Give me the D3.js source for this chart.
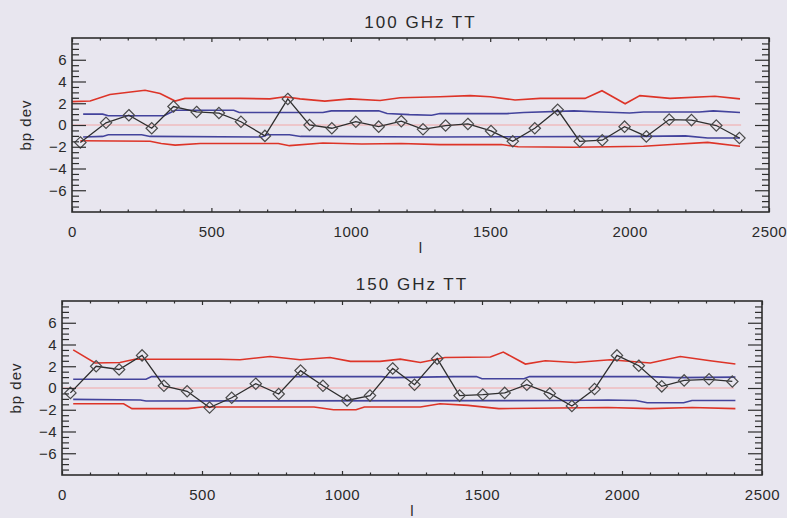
<!DOCTYPE html>
<html>
<head>
<meta charset="utf-8">
<script src="https://cdn.jsdelivr.net/npm/d3@7"></script>
<style>
  body { margin: 0; background: #e8e6ef; }
  svg { display: block; }
  text { font-family: "Liberation Sans", Arial, sans-serif; fill: #2a2a2a; }
</style>
</head>
<body>
<svg id="chart" width="787" height="518"></svg>
<script>
// multipole bin centres shared by both panels
const L_BINS = [30, 122, 204, 286, 364, 447, 527, 606, 692, 774, 852, 932, 1018, 1100, 1181,
  1259, 1340, 1420, 1503, 1581, 1660, 1742, 1821, 1902, 1982, 2060, 2142, 2222, 2311, 2394];

// bandpower deviation, 100 GHz TT
const TT100_DEV = [-1.6, 0.2, 0.9, -0.3, 1.7, 1.2, 1.1, 0.3, -1.0, 2.4, 0.0, -0.3, 0.3, -0.15, 0.35,
  -0.4, -0.05, 0.1, -0.55, -1.5, -0.3, 1.4, -1.5, -1.4, -0.15, -1.05, 0.5, 0.45, -0.05, -1.2];

// bandpower deviation, 150 GHz TT
const TT150_DEV = [-0.45, 2.0, 1.7, 3.0, 0.2, -0.3, -1.8, -0.9, 0.4, -0.55, 1.6, 0.2, -1.15, -0.7, 1.8,
  0.3, 2.7, -0.7, -0.6, -0.45, 0.3, -0.5, -1.65, -0.1, 3.0, 2.05, 0.15, 0.7, 0.8, 0.6];

// envelope curves as [l, value]
const TT100_RED_HI = [[0, 2.15], [65, 2.2], [136, 2.8], [262, 3.2], [316, 2.9], [370, 2.2], [405, 2.45],
  [603, 2.45], [710, 2.4], [764, 2.6], [818, 2.4], [907, 2.2], [997, 2.4], [1105, 2.25], [1177, 2.5],
  [1320, 2.6], [1428, 2.7], [1500, 2.6], [1589, 2.3], [1679, 2.45], [1840, 2.45], [1901, 3.15],
  [1984, 1.95], [2037, 2.7], [2145, 2.45], [2306, 2.65], [2396, 2.4]];
const TT100_RED_LO = [[30, -1.45], [280, -1.5], [320, -1.7], [370, -1.85], [460, -1.7], [740, -1.7],
  [780, -1.9], [900, -1.65], [1040, -1.75], [1180, -1.7], [1320, -1.8], [1540, -1.8], [1600, -2.0],
  [1800, -2.05], [2050, -1.95], [2150, -1.8], [2280, -1.6], [2396, -1.95]];
const TT100_BLUE_HI = [[40, 1.0], [110, 1.0], [130, 0.85], [330, 0.85], [370, 1.35], [580, 1.35],
  [600, 1.15], [900, 1.15], [930, 1.3], [1100, 1.3], [1130, 1.05], [1210, 0.95], [1290, 0.9],
  [1320, 1.05], [1560, 1.05], [1620, 1.15], [1800, 1.3], [1900, 1.2], [2000, 1.1], [2050, 1.2],
  [2250, 1.2], [2300, 1.3], [2396, 1.15]];
const TT100_BLUE_LO = [[40, -1.1], [110, -1.05], [130, -0.9], [250, -0.9], [280, -1.05], [680, -1.1],
  [700, -0.9], [780, -0.9], [820, -1.05], [1300, -1.1], [2050, -1.05], [2200, -1.0], [2280, -1.2],
  [2396, -1.2]];

const TT150_RED_HI = [[40, 3.5], [118, 2.3], [207, 2.35], [260, 2.65], [565, 2.65], [636, 2.6],
  [743, 2.9], [850, 2.6], [957, 2.8], [1030, 2.45], [1136, 2.45], [1208, 2.65], [1280, 2.35],
  [1368, 2.8], [1530, 2.85], [1576, 3.3], [1655, 2.2], [1726, 2.5], [1833, 2.35], [1958, 2.6],
  [2101, 2.3], [2208, 2.9], [2315, 2.5], [2405, 2.2]];
const TT150_RED_LO = [[40, -1.45], [220, -1.45], [250, -1.9], [450, -1.9], [500, -1.75], [900, -1.75],
  [970, -2.0], [1050, -2.0], [1080, -1.75], [1280, -1.75], [1350, -1.45], [1450, -1.6], [1560, -1.9],
  [1950, -1.8], [2100, -1.9], [2250, -1.8], [2405, -1.9]];
const TT150_BLUE_HI = [[40, 0.8], [300, 0.8], [320, 1.05], [1140, 1.05], [1180, 0.95], [1400, 1.05],
  [1480, 1.05], [1500, 0.85], [1650, 0.85], [1670, 1.05], [2100, 1.05], [2200, 0.95], [2405, 1.0]];
const TT150_BLUE_LO = [[40, -1.05], [280, -1.1], [300, -1.2], [1800, -1.15], [1950, -1.1], [2050, -1.15],
  [2090, -1.35], [2220, -1.35], [2250, -1.15], [2405, -1.15]];

const ZERO_SPAN = [0, 2400];
const X_DOMAIN = [0, 2500];
const Y_DOMAIN = [-8, 8];
const X_TICKS = [0, 500, 1000, 1500, 2000, 2500];
const Y_TICKS = [-6, -4, -2, 0, 2, 4, 6];

const RED = '#dd3428';
const BLUE = '#43439c';
const PINK = '#f2a6a6';
const INK = '#2e2e2e';

const svg = d3.select('#chart');

function drawPanel(cfg) {
  const { left, top, width, height } = cfg;
  const g = svg.append('g').attr('transform', `translate(${left},${top})`);

  const x = d3.scaleLinear().domain(X_DOMAIN).range([0, width]);
  const y = d3.scaleLinear().domain(Y_DOMAIN).range([height, 0]);

  const line = d3.line().x((d) => x(d[0])).y((d) => y(d[1]));

  // zero reference
  g.append('path')
    .attr('d', line(ZERO_SPAN.map((l) => [l, 0])))
    .attr('fill', 'none')
    .attr('stroke', PINK)
    .attr('stroke-width', 1);

  // envelopes
  [[cfg.blueHi, BLUE], [cfg.blueLo, BLUE], [cfg.redHi, RED], [cfg.redLo, RED]].forEach(([pts, col]) => {
    g.append('path')
      .attr('d', line(pts))
      .attr('fill', 'none')
      .attr('stroke', col)
      .attr('stroke-width', 1.6);
  });

  // data
  const pts = L_BINS.map((l, i) => [l, cfg.dev[i]]);
  g.append('path')
    .attr('d', line(pts))
    .attr('fill', 'none')
    .attr('stroke', INK)
    .attr('stroke-width', 1.3);

  const diamond = d3.symbol(d3.symbolDiamond2 || d3.symbolDiamond, 82);
  g.selectAll('path.pt')
    .data(pts)
    .join('path')
    .attr('class', 'pt')
    .attr('transform', (d) => `translate(${x(d[0])},${y(d[1])})`)
    .attr('d', diamond)
    .attr('fill', 'none')
    .attr('stroke', '#4a4a4a')
    .attr('stroke-width', 1.2);

  // axes, ticks pointing inward
  const minorX = d3.range(0, 2501, 100).filter((v) => v % 500 !== 0);
  const minorY = d3.range(-8, 8.01, 0.5).filter((v) => v % 2 !== 0);

  const axes = [
    g.append('g').attr('transform', `translate(0,${height})`)
      .call(d3.axisBottom(x).tickValues(X_TICKS).tickSize(-4).tickSizeOuter(0).tickPadding(14)
        .tickFormat(d3.format('d'))),
    g.append('g').attr('transform', `translate(0,${height})`)
      .call(d3.axisBottom(x).tickValues(minorX).tickSize(-2.5).tickSizeOuter(0).tickFormat('')),
    g.append('g')
      .call(d3.axisTop(x).tickValues(X_TICKS).tickSize(-4).tickSizeOuter(0).tickFormat('')),
    g.append('g')
      .call(d3.axisTop(x).tickValues(minorX).tickSize(-2.5).tickSizeOuter(0).tickFormat('')),
    g.append('g')
      .call(d3.axisLeft(y).tickValues(Y_TICKS).tickSize(-14).tickSizeOuter(0).tickPadding(5)),
    g.append('g')
      .call(d3.axisLeft(y).tickValues(minorY).tickSize(-7).tickSizeOuter(0).tickFormat('')),
    g.append('g').attr('transform', `translate(${width},0)`)
      .call(d3.axisRight(y).tickValues(Y_TICKS).tickSize(-14).tickSizeOuter(0).tickFormat('')),
    g.append('g').attr('transform', `translate(${width},0)`)
      .call(d3.axisRight(y).tickValues(minorY).tickSize(-7).tickSizeOuter(0).tickFormat('')),
  ];
  axes.forEach((a) => {
    a.select('.domain').remove();
    a.selectAll('line').attr('stroke', INK).attr('stroke-width', 1.2);
    a.selectAll('text')
      .style('font-size', '15px')
      .style('letter-spacing', '0.5px')
      .style('font-family', '"Liberation Sans", Arial, sans-serif')
      .attr('fill', INK);
  });

  g.append('rect')
    .attr('width', width)
    .attr('height', height)
    .attr('fill', 'none')
    .attr('stroke', INK)
    .attr('stroke-width', 1.6);

  // titles
  svg.append('text')
    .attr('x', left + width / 2)
    .attr('y', cfg.titleY)
    .attr('text-anchor', 'middle')
    .style('font-size', '17px')
    .style('letter-spacing', '2px')
    .text(cfg.title);

  svg.append('text')
    .attr('x', left + width / 2)
    .attr('y', top + height + 41)
    .attr('text-anchor', 'middle')
    .style('font-size', '15px')
    .text('l');

  svg.append('text')
    .attr('transform', `translate(${cfg.yLabelX},${top + height / 2}) rotate(-90)`)
    .attr('text-anchor', 'middle')
    .style('font-size', '15px')
    .style('letter-spacing', '1px')
    .text('bp dev');
}

drawPanel({
  left: 72, top: 38, width: 697, height: 174,
  title: '100 GHz TT', titleY: 28, yLabelX: 31,
  dev: TT100_DEV,
  redHi: TT100_RED_HI, redLo: TT100_RED_LO, blueHi: TT100_BLUE_HI, blueLo: TT100_BLUE_LO,
});

drawPanel({
  left: 62, top: 301, width: 700, height: 174,
  title: '150 GHz TT', titleY: 290, yLabelX: 21,
  dev: TT150_DEV,
  redHi: TT150_RED_HI, redLo: TT150_RED_LO, blueHi: TT150_BLUE_HI, blueLo: TT150_BLUE_LO,
});
</script>
</body>
</html>
